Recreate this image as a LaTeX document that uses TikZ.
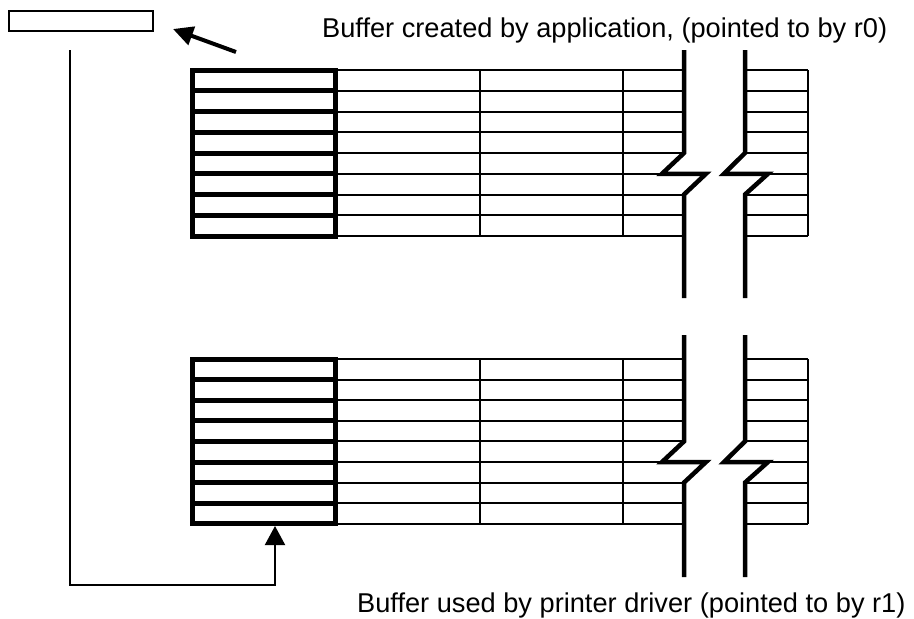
\documentclass[tikz,border=0pt]{standalone}
\usepackage{fontspec}
\setmainfont{Liberation Sans}
\usetikzlibrary{arrows.meta}
\tikzset{
  thinline/.style={line width=2pt},
  thickline/.style={line width=5pt},
  breakline/.style={line width=4.5pt, line join=miter},
  label/.style={font=\fontsize{27.2}{31}\selectfont, inner sep=0pt, anchor=base west},
  ptrbox/.style={draw, line width=2.5pt, minimum width=144pt, minimum height=20pt, inner sep=0pt},
}
\newcommand{\bufgrid}[4]{% #1 top, #2 row height, #3 break top, #4 break bottom
  \pgfmathsetmacro{\gT}{#1}
  \pgfmathsetmacro{\gH}{#2}
  \pgfmathsetmacro{\gB}{#1+8*#2}
  \foreach \i in {0,...,8}{
    \draw[thinline] (335,{\gT+\i*\gH}) -- (684,{\gT+\i*\gH});
    \draw[thinline] (745,{\gT+\i*\gH}) -- (808,{\gT+\i*\gH});
  }
  \foreach \xx in {480,623,808}{
    \draw[thinline] (\xx,\gT) -- (\xx,\gB);
  }
  \foreach \i in {1,...,7}{
    \draw[thickline] (192,{\gT+\i*\gH}) -- (335,{\gT+\i*\gH});
  }
  \draw[thickline, line join=miter] (192,\gT) rectangle (335,\gB);
  \draw[breakline] (684,#3) -- (684,{\gT+4*\gH}) -- (662,{\gT+5*\gH}) -- (706,{\gT+5*\gH}) -- (684,{\gT+6*\gH}) -- (684,#4);
  \draw[breakline] (745,#3) -- (745,{\gT+4*\gH}) -- (724,{\gT+5*\gH}) -- (768,{\gT+5*\gH}) -- (745,{\gT+6*\gH}) -- (745,#4);
}
\begin{document}
\begin{tikzpicture}[x=1pt,y=-1pt]
  \useasboundingbox (0,0) rectangle (914,619);
  \node[ptrbox] (ptr) at (81,21) {};
  \coordinate (arrtail) at (236,52);
  \coordinate (arrtip) at (173,29);
  \draw[line width=4pt, -{Triangle[length=20pt,width=19pt]}] (arrtail) -- (arrtip);
  \node[label] (toplabel) at (322,37) {Buffer created by application, (pointed to by r0)};
  \node[label] (botlabel) at (357,612) {Buffer used by printer driver (pointed to by r1)};
  \bufgrid{70}{20.75}{50}{298}
  \bufgrid{359}{20.6}{335}{577}
  \coordinate (linestart) at (70,50);
  \coordinate (linecorner1) at (70,585);
  \coordinate (linecorner2) at (275,585);
  \coordinate (bufbottom) at (275,526);
  \draw[thinline, line join=miter, -{Triangle[length=19pt,width=20pt]}] (linestart) -- (linecorner1) -- (linecorner2) -- (bufbottom);
\end{tikzpicture}
\end{document}
